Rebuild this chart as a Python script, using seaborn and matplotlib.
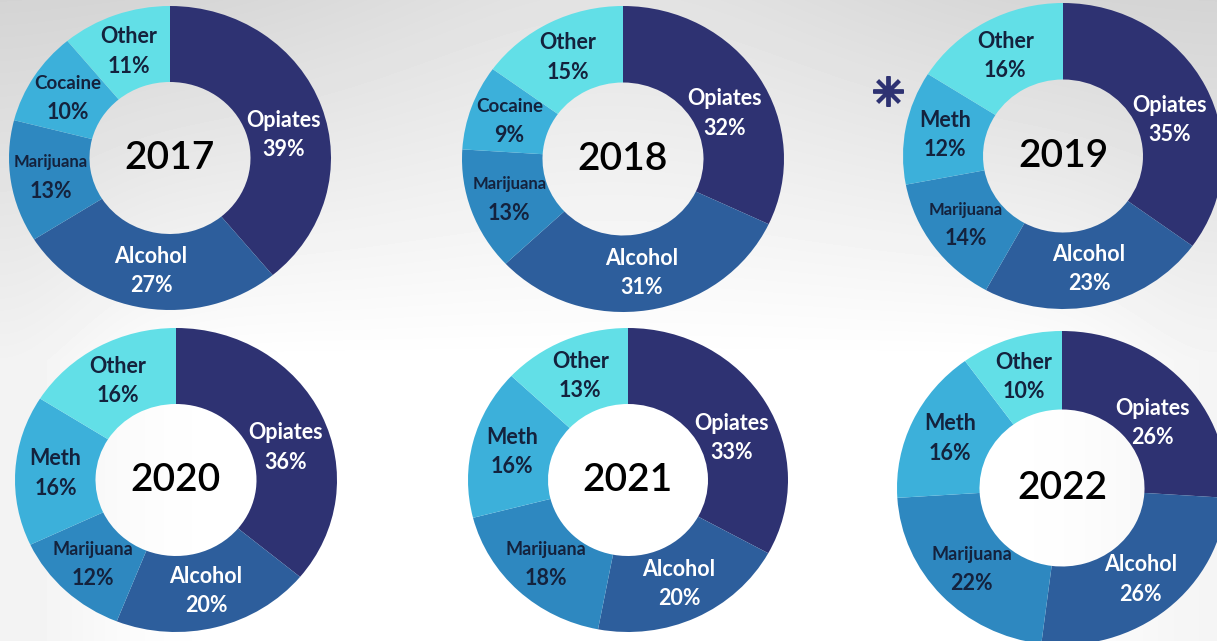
import numpy as np
import matplotlib
matplotlib.use("Agg")
import matplotlib.pyplot as plt
import seaborn as sns

# share of admissions by primary substance, per year
years = ['2017', '2018', '2019', '2020', '2021', '2022']
opiates = [39, 32, 35, 36, 33, 26]
alcohol = [27, 31, 23, 20, 20, 26]
marijuana = [13, 13, 14, 12, 18, 22]
stim_names = ['Cocaine', 'Cocaine', 'Meth', 'Meth', 'Meth', 'Meth']
stim = [10, 9, 12, 16, 16, 16]
other = [11, 15, 16, 16, 13, 10]

palette = sns.color_palette(['#2e3272', '#2d5e9c', '#2e88c0', '#3cb0da', '#62dfe7'])
text_cols = ['white', 'white', '#14223d', '#14223d', '#14223d']
label_dy = [-11, 0, 0, 0, 0]   # opiates labels sit a bit lower in the original

sns.set_theme(style="white")
plt.rcParams['font.family'] = ['Lato', 'DejaVu Sans']

W, H = 1217, 641
fig = plt.figure(figsize=(W / 100, H / 100), dpi=100)

# grey-to-white backdrop
bg_ax = fig.add_axes([0, 0, 1, 1])
yy, xx = np.mgrid[0:H, 0:W]
v = np.clip(1 - yy / 360, 0, 1)
h = 1 - 0.35 * np.exp(-((xx - 610) / 320) ** 2)
edge = 0.05 * np.exp(-(xx / 120) ** 2) + 0.04 * np.exp(-((W - xx) / 120) ** 2)
bg = 1 - 0.17 * v * h - edge * (1 - v)
bg_ax.imshow(bg, cmap='gray', vmin=0, vmax=1, aspect='auto', extent=[0, W, H, 0])
bg_ax.set_xlim(0, W)
bg_ax.set_ylim(H, 0)
bg_ax.axis('off')

# asterisk next to 2019
bg_ax.plot(888, 91, marker=(8, 2, 0), markersize=22, markeredgewidth=2.8,
           color='#2e3272', linestyle='none')

# donut centres / radii in pixels
layout = [(170, 158, 161, 152), (623, 159, 161, 153), (1063, 156, 160, 153),
          (176, 480, 161, 152), (628, 480, 160, 152), (1062, 488, 165, 157)]

for i, year in enumerate(years):
    cx, cy, rx, ry = layout[i]
    ax = fig.add_axes([(cx - rx) / W, 1 - (cy + ry) / H, 2 * rx / W, 2 * ry / H])
    vals = [opiates[i], alcohol[i], marijuana[i], stim[i], other[i]]
    names = ['Opiates', 'Alcohol', 'Marijuana', stim_names[i], 'Other']
    wedges, _ = ax.pie(vals, colors=palette, startangle=90, counterclock=False,
                       radius=1, wedgeprops=dict(width=0.5, linewidth=0))
    ax.set_aspect('auto')
    ax.set_xlim(-1, 1)
    ax.set_ylim(-1, 1)
    for w, name, val, tc, dy in zip(wedges, names, vals, text_cols, label_dy):
        ang = np.deg2rad((w.theta1 + w.theta2) / 2)
        x, y = 0.75 * np.cos(ang), 0.75 * np.sin(ang)
        if name == 'Marijuana':
            fs = 12 if i < 3 else 13
        elif name == 'Cocaine':
            fs = 13.5
        else:
            fs = 15.5
        ax.annotate(name, (x, y), xytext=(0, 10 + dy), textcoords='offset points',
                    ha='center', va='center', fontsize=fs, fontweight='bold', color=tc)
        ax.annotate(f'{val}%', (x, y), xytext=(0, -11 + dy), textcoords='offset points',
                    ha='center', va='center', fontsize=15.5, fontweight='bold', color=tc)
    ax.text(0, 0, year, ha='center', va='center', fontsize=28, fontweight='semibold',
            color='black')

plt.savefig('out.png', dpi=100)
